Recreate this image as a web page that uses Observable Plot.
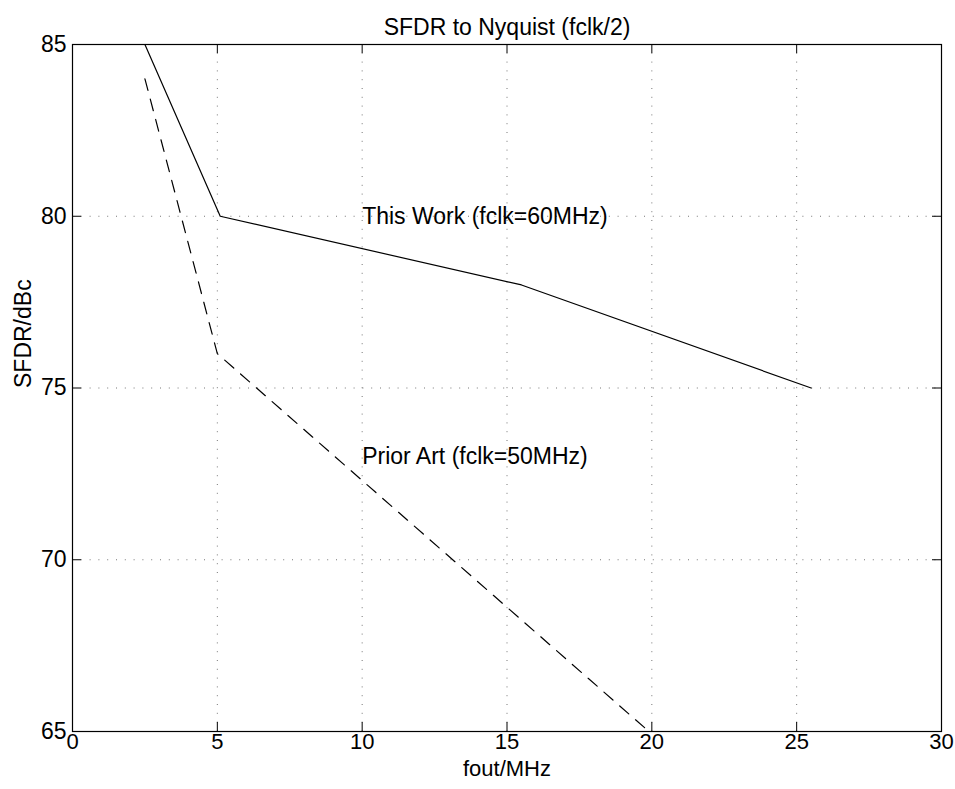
<!DOCTYPE html>
<html>
<head>
<meta charset="utf-8">
<script src="https://cdn.jsdelivr.net/npm/d3@7"></script>
<script src="https://cdn.jsdelivr.net/npm/@observablehq/plot@0.6"></script>
<style>
  html, body { margin: 0; padding: 0; background: #fff; }
  #chart svg { display: block; }
</style>
</head>
<body>
<div id="chart"></div>
<script>
// Data
const xWork = [2.5, 5.1, 15.5, 25.5];
const yWork = [85, 80, 78, 75];
const xPrior = [2.5, 5.0, 19.9];
const yPrior = [84, 76, 65];
const xTicks = [0, 5, 10, 15, 20, 25, 30];
const yTicks = [65, 70, 75, 80, 85];
const xGrid = [5, 10, 15, 20, 25];
const yGrid = [70, 75, 80];
const labelTexts = ["This Work (fclk=60MHz)", "Prior Art (fclk=50MHz)"];
const labelX = [10, 10];
const labelY = [80, 73];
const titleText = "SFDR to Nyquist (fclk/2)";
const xLabel = "fout/MHz";
const yLabel = "SFDR/dBc";

const work = xWork.map((x, i) => ({x, y: yWork[i]}));
const prior = xPrior.map((x, i) => ({x, y: yPrior[i]}));
const labels = labelTexts.map((t, i) => ({t, x: labelX[i], y: labelY[i]}));

const W = 955, H = 789;
const mL = 72, mR = 14, mT = 44, mB = 58;
const fw = W - mL - mR, fh = H - mT - mB;
const tickLen = 9;

const plot = Plot.plot({
  width: W,
  height: H,
  marginLeft: mL, marginRight: mR, marginTop: mT, marginBottom: mB,
  style: {fontFamily: "'Liberation Sans', Arial, Helvetica, sans-serif", background: "#fff", color: "#000"},
  x: {domain: [0, 30]},
  y: {domain: [65, 85]},
  marks: [
    Plot.gridX(xGrid, {stroke: "#777", strokeOpacity: 1, strokeDasharray: "1,7.8", strokeWidth: 1}),
    Plot.gridY(yGrid, {stroke: "#777", strokeOpacity: 1, strokeDasharray: "1,7.8", strokeWidth: 1}),
    // inward ticks on all four sides
    Plot.tickX(xTicks, {x: d => d, insetTop: fh - tickLen, stroke: "#000", strokeWidth: 1}),
    Plot.tickX(xTicks, {x: d => d, insetBottom: fh - tickLen, stroke: "#000", strokeWidth: 1}),
    Plot.tickY(yTicks, {y: d => d, insetRight: fw - tickLen, stroke: "#000", strokeWidth: 1}),
    Plot.tickY(yTicks, {y: d => d, insetLeft: fw - tickLen, stroke: "#000", strokeWidth: 1}),
    Plot.axisX({ticks: xTicks, tickSize: 0, tickPadding: 2, fontSize: 22, label: null, tickFormat: d => String(d)}),
    Plot.axisY({ticks: yTicks, tickSize: 0, tickPadding: 6, fontSize: 23, label: null, tickFormat: d => String(d)}),
    Plot.frame({stroke: "#000", strokeWidth: 1.2}),
    Plot.line(work, {x: "x", y: "y", stroke: "#000", strokeWidth: 1.2}),
    Plot.line(prior, {x: "x", y: "y", stroke: "#000", strokeWidth: 1.2, strokeDasharray: "12,9"}),
    Plot.text(labels, {x: "x", y: "y", text: "t", textAnchor: "start", fontSize: 23, fill: "#000"}),
    Plot.text([titleText], {frameAnchor: "top", dy: -26, fontSize: 23, fill: "#000"}),
    Plot.text([xLabel], {frameAnchor: "bottom", dy: 44, fontSize: 22, fill: "#000"}),
    Plot.text([yLabel], {frameAnchor: "left", dx: -49, rotate: -90, fontSize: 23, fill: "#000"})
  ]
});
document.getElementById("chart").appendChild(plot);
</script>
</body>
</html>
